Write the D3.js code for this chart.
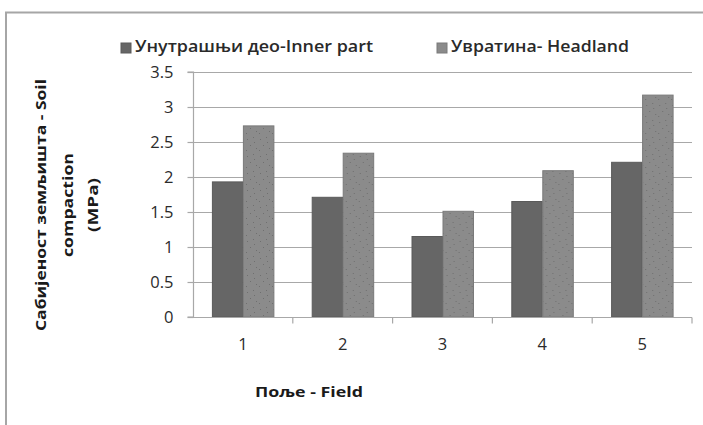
<!DOCTYPE html>
<html>
<head>
<meta charset="utf-8">
<script src="https://cdn.jsdelivr.net/npm/d3@7"></script>
<style>
  html, body { margin: 0; padding: 0; background: #fff; }
  svg { display: block; font-family: "Open Sans", "Noto Sans", sans-serif; }
</style>
</head>
<body>
<svg id="chart" width="703" height="425"></svg>
<script>
// Soil compaction by field: inner part vs. headland
const fields = ["1", "2", "3", "4", "5"];
const seriesNames = ["Унутрашњи део-Inner part", "Увратина- Headland"];
const innerPart = [1.93, 1.71, 1.15, 1.65, 2.21];
const headland = [2.73, 2.34, 1.51, 2.09, 3.17];
const yTicks = [0, 0.5, 1, 1.5, 2, 2.5, 3, 3.5];
const yTitle = ["Сабијеност земљишта - Soil", "compaction", "(MPa)"];
const xTitle = "Поље - Field";

const seriesValues = [innerPart, headland];
const fills = ["#666666", "#8b8b8b"];
const strokes = ["#5a5a5a", "#7a7a7a"];

const svg = d3.select("#chart");

// grain texture for the lighter series
const defs = svg.append("defs");
const pat = defs.append("pattern")
  .attr("id", "grain")
  .attr("patternUnits", "userSpaceOnUse")
  .attr("width", 13).attr("height", 17);
pat.append("rect").attr("width", 13).attr("height", 17).attr("fill", fills[1]);
[[2, 3], [8, 1], [5, 9], [11, 12], [1, 14], [9, 6]].forEach(([px, py]) => {
  pat.append("rect").attr("x", px).attr("y", py).attr("width", 1).attr("height", 1)
    .attr("fill", "#6f6f6f");
});

// outer chart frame (runs off the right and bottom edges)
svg.append("rect")
  .attr("x", 6).attr("y", 12.5)
  .attr("width", 720).attr("height", 440)
  .attr("fill", "none")
  .attr("stroke", "#a6a6a6")
  .attr("stroke-width", 2);

const plot = { left: 193, right: 692, top: 72, bottom: 317 };

const x0 = d3.scaleBand().domain(fields).range([plot.left, plot.right]).padding(0);
const x1 = d3.scaleBand().domain([0, 1]).range([0, x0.bandwidth()])
  .paddingInner(0).paddingOuter(0.61);
const y = d3.scaleLinear().domain([0, 3.5]).range([plot.bottom, plot.top]);

// horizontal gridlines
svg.append("g")
  .selectAll("line")
  .data(yTicks.filter(t => t > 0))
  .join("line")
  .attr("x1", plot.left).attr("x2", plot.right)
  .attr("y1", d => Math.round(y(d)) + 0.5).attr("y2", d => Math.round(y(d)) + 0.5)
  .attr("stroke", "#a8a8a8").attr("stroke-width", 1.2);

// bars
const groups = svg.append("g")
  .selectAll("g")
  .data(fields)
  .join("g")
  .attr("transform", d => `translate(${x0(d)},0)`);

groups.selectAll("rect")
  .data((d, i) => seriesValues.map((vals, s) => ({ s, v: vals[i] })))
  .join("rect")
  .attr("x", d => x1(d.s) + 0.5)
  .attr("width", x1.bandwidth() - 0.5)
  .attr("y", d => y(d.v))
  .attr("height", d => y(0) - y(d.v))
  .attr("fill", d => d.s === 1 ? "url(#grain)" : fills[0])
  .attr("stroke", d => strokes[d.s])
  .attr("stroke-width", 1);

// y axis
const yAxis = svg.append("g")
  .attr("transform", `translate(${plot.left + 0.5},0)`)
  .call(d3.axisLeft(y).tickValues(yTicks).tickSize(6).tickPadding(14)
    .tickFormat(d => String(d)));
yAxis.select(".domain").attr("stroke", "#a8a8a8").attr("stroke-width", 1.2)
  .attr("d", `M-6,${y(0)}H0V${y(3.5)}H-6`);
yAxis.selectAll(".tick line").attr("stroke", "#a8a8a8").attr("stroke-width", 1.2);
yAxis.selectAll(".tick text")
  .attr("fill", "#2b2b2b")
  .style("font-size", "16.5px")
  .style("font-family", "'Open Sans', sans-serif");

// x axis with ticks at category boundaries
const xAxisG = svg.append("g").attr("transform", `translate(0,${plot.bottom + 0.5})`);
xAxisG.append("line")
  .attr("x1", plot.left).attr("x2", plot.right)
  .attr("stroke", "#a8a8a8").attr("stroke-width", 1.2);
xAxisG.selectAll("line.bound")
  .data(fields)
  .join("line")
  .attr("class", "bound")
  .attr("x1", d => x0(d) + x0.bandwidth()).attr("x2", d => x0(d) + x0.bandwidth())
  .attr("y1", 0).attr("y2", 6)
  .attr("stroke", "#a8a8a8").attr("stroke-width", 1.2);
xAxisG.selectAll("text")
  .data(fields)
  .join("text")
  .attr("x", d => x0(d) + x0.bandwidth() / 2)
  .attr("y", 28)
  .attr("text-anchor", "middle")
  .attr("dominant-baseline", "middle")
  .attr("fill", "#2b2b2b")
  .style("font-size", "16.5px")
  .text(d => d);

// axis titles
svg.append("text")
  .attr("x", 309).attr("y", 393)
  .attr("text-anchor", "middle")
  .attr("dominant-baseline", "middle")
  .attr("font-weight", 700)
  .attr("fill", "#1a1a1a")
  .style("font-size", "14px")
  .attr("textLength", 108).attr("lengthAdjust", "spacingAndGlyphs")
  .text(xTitle);

const yTitleX = [42, 69, 94];
const yTitleLen = [252, 104, 54];
svg.append("g")
  .selectAll("text")
  .data(yTitle)
  .join("text")
  .attr("transform", (d, i) => `translate(${yTitleX[i]},205) rotate(-90)`)
  .attr("text-anchor", "middle")
  .attr("dominant-baseline", "middle")
  .attr("font-weight", 700)
  .attr("fill", "#1a1a1a")
  .style("font-size", "14.5px")
  .attr("textLength", (d, i) => yTitleLen[i]).attr("lengthAdjust", "spacingAndGlyphs")
  .text(d => d);

// legend
const legendX = [121, 437];
const legendLen = [238, 178];
const legend = svg.append("g")
  .selectAll("g")
  .data(seriesNames)
  .join("g")
  .attr("transform", (d, i) => `translate(${legendX[i]},43)`);
legend.append("rect")
  .attr("width", 10).attr("height", 10)
  .attr("fill", (d, i) => fills[i])
  .attr("stroke", (d, i) => strokes[i]);
legend.append("text")
  .attr("x", 14).attr("y", 5)
  .attr("dominant-baseline", "middle")
  .attr("font-weight", 600)
  .attr("fill", "#2a2a2a")
  .style("font-size", "16px")
  .attr("textLength", (d, i) => legendLen[i]).attr("lengthAdjust", "spacingAndGlyphs")
  .text(d => d);
</script>
</body>
</html>
